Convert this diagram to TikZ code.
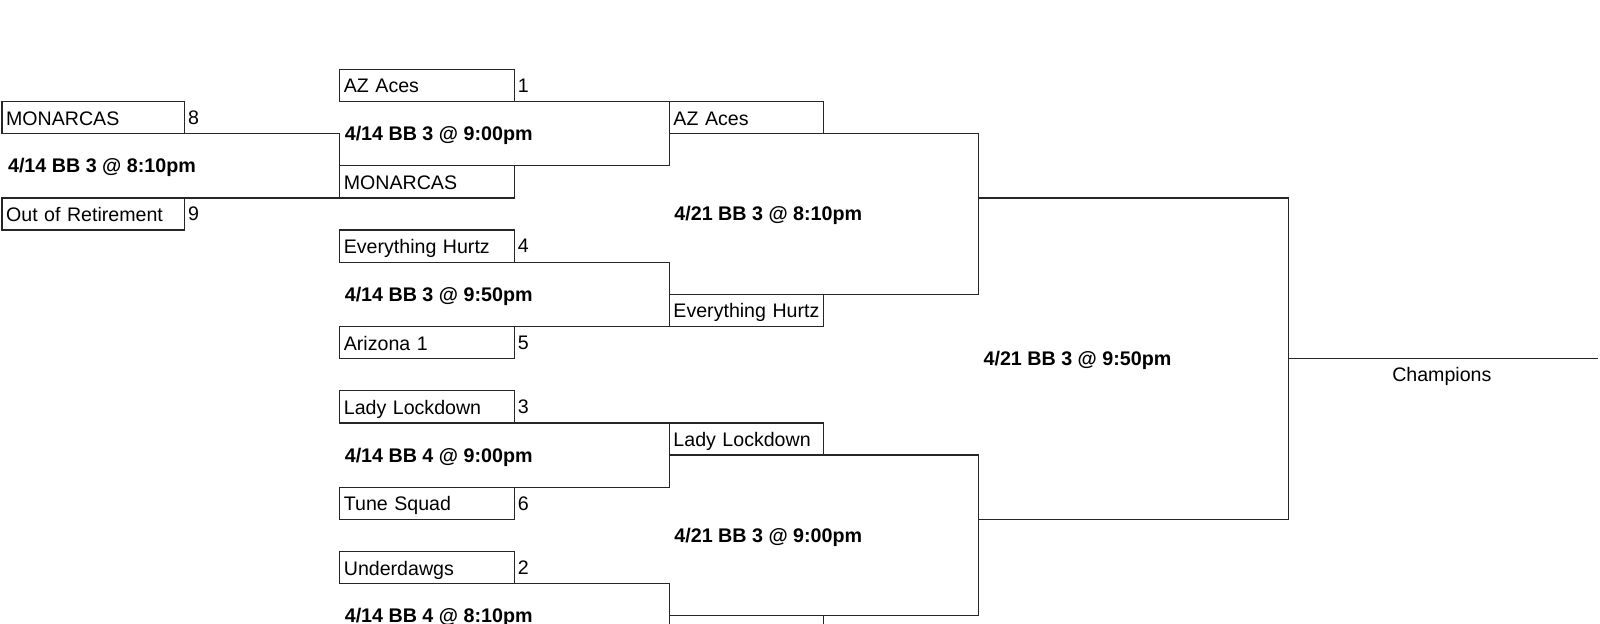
\documentclass[tikz,border=0pt]{standalone}
\usepackage{fontspec}
\setmainfont{Liberation Sans}
\usetikzlibrary{positioning}
\tikzset{
    team/.style  = {rectangle, draw=black!85, line width=0.65pt, anchor=north west, outer sep=0pt, inner xsep=2pt, inner ysep=0pt, minimum height=15.75pt, text height=8.5pt, text depth=1.2pt, align=left},
    teamp/.style = {team, text width=85.5pt}, % play-in
    teama/.style = {team, text width=81.5pt}, % round 1
    teamb/.style = {team, text width=71.5pt}, % round 2
    seed/.style  = {inner sep=0pt, right=1.5pt of #1},
    game/.style  = {anchor=west, inner sep=0pt, text height=7pt, text depth=0pt, font=\fontsize{9.65}{11.5}\selectfont\bfseries},
    edgen/.style = {draw=black!85, line width=0.65pt},
}
\begin{document}
\begin{tikzpicture}[x=0.5pt, y=-0.5pt, font=\fontsize{9.6}{11.5}\selectfont]
  \useasboundingbox (0,0) rectangle (1568,610.6);
  \clip (0,0) rectangle (1568,610.6);

  % play-in
  \node[teamp] (p0mon) at (2,99.5) {MONARCAS};
  \node[seed=p0mon] (sd8) {8};
  \node[teamp] (p0out) at (2,194) {Out of Retirement};
  \node[seed=p0out] (sd9) {9};
  \node[game] (g0) at (7.5,162.5) {4/14 BB 3 @ 8:10pm};

  % round 1
  \node[teama] (r1aces) at (333,68) {AZ Aces};
  \node[seed=r1aces] (sd1) {1};
  \node[teama] (r1mon) at (333,162.5) {MONARCAS};
  \node[teama] (r1hurtz) at (333,225.5) {Everything Hurtz};
  \node[seed=r1hurtz] (sd4) {4};
  \node[teama] (r1ariz) at (333,320) {Arizona 1};
  \node[seed=r1ariz] (sd5) {5};
  \node[teama] (r1lady) at (333,383) {Lady Lockdown};
  \node[seed=r1lady] (sd3) {3};
  \node[teama] (r1tune) at (333,477.5) {Tune Squad};
  \node[seed=r1tune] (sd6) {6};
  \node[teama] (r1under) at (333,540.5) {Underdawgs};
  \node[seed=r1under] (sd2) {2};
  \node[game] (g1) at (337.5,131) {4/14 BB 3 @ 9:00pm};
  \node[game] (g2) at (337.5,288.5) {4/14 BB 3 @ 9:50pm};
  \node[game] (g3) at (337.5,446) {4/14 BB 4 @ 9:00pm};
  \node[game] (g4) at (337.5,603.5) {4/14 BB 4 @ 8:10pm};

  % round 2
  \node[teamb] (r2aces) at (656,99.5) {AZ Aces};
  \node[teamb] (r2hurtz) at (656,288.5) {Everything Hurtz};
  \node[teamb] (r2lady) at (656,414.5) {Lady Lockdown};
  \node[teamb] (r2low) at (656,603.5) {};
  \node[game] (h1) at (660.5,209.5) {4/21 BB 3 @ 8:10pm};
  \node[game] (h2) at (660.5,525) {4/21 BB 3 @ 9:00pm};

  % semi and final
  \coordinate (s1) at (959,194);
  \coordinate (s2) at (959,509);
  \coordinate (f1) at (1263,351.5);
  \coordinate (champ) at (1566,351.5);
  \node[game] (k1) at (963.5,351.5) {4/21 BB 3 @ 9:50pm};
  \node (ctxt) at (1413,369) {Champions};

  \draw[edgen] (p0mon.south east) -| (r1mon.south west) -- (p0out.north east);
  \draw[edgen] (r1aces.south east) -- (r2aces.north west) |- (r1mon.north east);
  \draw[edgen] (r1hurtz.south east) -| (r2hurtz.south west) -- (r1ariz.north east);
  \draw[edgen] (r1lady.south east) -- (r2lady.north west) |- (r1tune.north east);
  \draw[edgen] (r1under.south east) -| (r2low.south west);
  \draw[edgen] (r2aces.south east) -| (s1) |- (r2hurtz.north east);
  \draw[edgen] (r2lady.south east) -| (s2) |- (r2low.north east);
  \draw[edgen] (s1) -| (f1) |- (s2);
  \draw[edgen] (f1) -- (champ);
\end{tikzpicture}
\end{document}
